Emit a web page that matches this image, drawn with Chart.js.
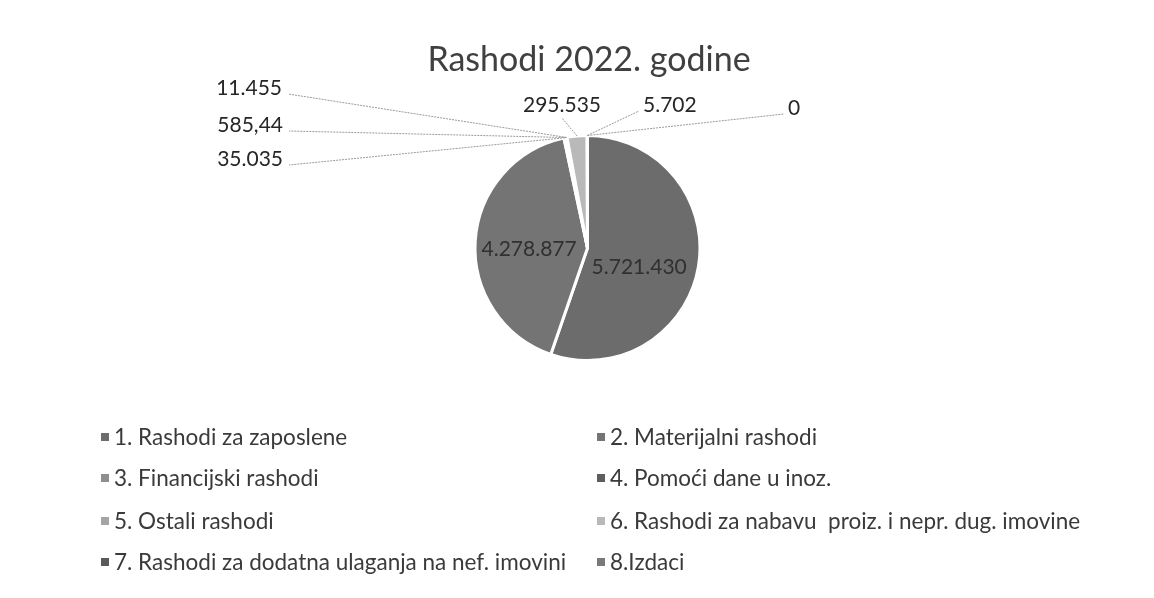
<!DOCTYPE html>
<html>
<head>
<meta charset="utf-8">
<script src="https://cdn.jsdelivr.net/npm/chart.js@4.4.1/dist/chart.umd.min.js"></script>
<style>
  html, body { margin: 0; padding: 0; background: #fff; }
  #wrap { width: 1154px; height: 598px; position: relative; }
</style>
</head>
<body>
<div id="wrap"><canvas id="rashodiChart" width="1154" height="598"></canvas></div>
<script>
// data
const categories = [
    '1. Rashodi za zaposlene',
    '2. Materijalni rashodi',
    '3. Financijski rashodi',
    '4. Pomoći dane u inoz.',
    '5. Ostali rashodi',
    '6. Rashodi za nabavu  proiz. i nepr. dug. imovine',
    '7. Rashodi za dodatna ulaganja na nef. imovini',
    '8.Izdaci'
];
const values = [5721430, 4278877, 35035, 585.44, 11455, 295535, 5702, 0];
const sliceColors = ['#6c6c6c', '#747474', '#8e8e8e', '#5e5e5e', '#a4a4a4', '#b9b9b9', '#5a5a5a', '#7a7a7a'];
const chartTitle = 'Rashodi 2022. godine';

// where the outside labels sit (text anchor, alignment)
const outsideLabels = {
    2: { x: 283, y: 159, align: 'right' },
    3: { x: 283, y: 125, align: 'right' },
    4: { x: 282, y: 88, align: 'right' },
    5: { x: 562, y: 105, align: 'center' },
    6: { x: 643, y: 105, align: 'left' },
    7: { x: 788, y: 108, align: 'left' }
};

const FONT = 'Lato, "Open Sans", sans-serif';
const fmt = new Intl.NumberFormat('de-DE', { maximumFractionDigits: 2 });

const labelPlugin = {
    id: 'excelLabels',
    afterDraw(chart) {
        const ctx = chart.ctx;
        const arcs = chart.getDatasetMeta(0).data;
        ctx.save();

        // title
        ctx.fillStyle = '#404040';
        ctx.font = '34px ' + FONT;
        ctx.textAlign = 'center';
        ctx.textBaseline = 'middle';
        ctx.fillText(chartTitle, 589, 60);

        // value labels
        ctx.font = '21px ' + FONT;
        arcs.forEach((arc, i) => {
            const p = arc.getProps(['x', 'y', 'startAngle', 'endAngle', 'outerRadius']);
            const mid = (p.startAngle + p.endAngle) / 2;
            const text = fmt.format(values[i]);
            if (outsideLabels[i]) {
                const lab = outsideLabels[i];
                const sx = p.x + Math.cos(mid) * p.outerRadius;
                const sy = p.y + Math.sin(mid) * p.outerRadius;
                let ex = lab.x, ey = lab.y + 6;
                if (lab.align === 'right') ex = lab.x + 6;
                if (lab.align === 'left') ex = lab.x - 4;
                if (lab.align === 'center') { ex = lab.x; ey = lab.y + 13; }
                ctx.strokeStyle = '#9a9a9a';
                ctx.lineWidth = 1;
                ctx.setLineDash([2, 1]);
                ctx.beginPath();
                ctx.moveTo(sx, sy);
                ctx.lineTo(ex, ey);
                ctx.stroke();
                ctx.setLineDash([]);
                ctx.fillStyle = '#262626';
                ctx.textAlign = lab.align;
                ctx.fillText(text, lab.x, lab.y);
            } else {
                const r = p.outerRadius * 0.52;
                ctx.fillStyle = '#303030';
                ctx.textAlign = 'center';
                ctx.fillText(text, p.x + Math.cos(mid) * r - (i === 0 ? 6 : 0), p.y + Math.sin(mid) * r + (i === 0 ? 10 : 5));
            }
        });

        // legend, two columns
        ctx.font = '22.5px ' + FONT;
        ctx.textAlign = 'left';
        const rows = [437, 478, 521, 562];
        categories.forEach((name, i) => {
            const col = i % 2;
            const y = rows[Math.floor(i / 2)];
            const mx = col === 0 ? 101 : 597;
            ctx.fillStyle = sliceColors[i];
            ctx.fillRect(mx, y - 4, 8, 8);
            ctx.fillStyle = '#3a3a3a';
            ctx.fillText(name, mx + 13, y + 1);
        });
        ctx.restore();
    }
};

new Chart(document.getElementById('rashodiChart'), {
    type: 'pie',
    data: {
        labels: categories,
        datasets: [{
            data: values,
            backgroundColor: sliceColors,
            borderColor: '#ffffff',
            borderWidth: 3,
            hoverOffset: 0
        }]
    },
    options: {
        responsive: false,
        animation: false,
        layout: { padding: { top: 134, bottom: 236, left: 400, right: 379 } },
        plugins: {
            legend: { display: false },
            tooltip: { enabled: false }
        }
    },
    plugins: [labelPlugin]
});
</script>
</body>
</html>
